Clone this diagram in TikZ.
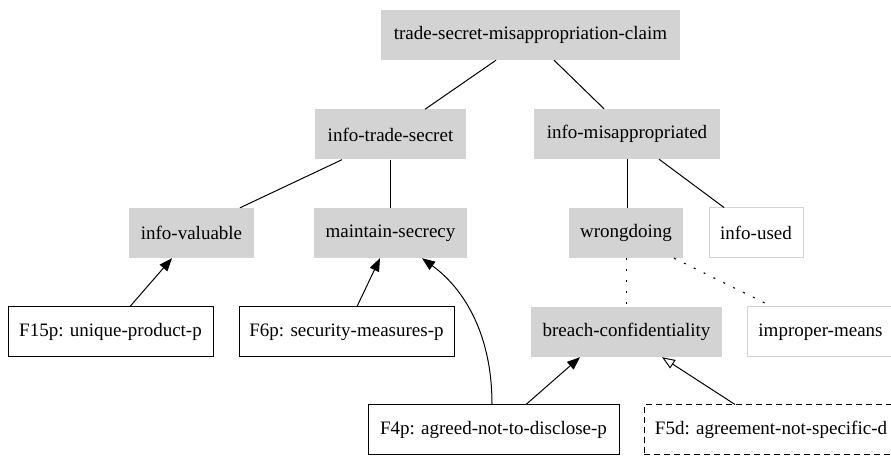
\documentclass[tikz,border=0pt]{standalone}
\usepackage{fontspec}
\setmainfont{Liberation Serif}
\newfontfamily\tnrfont{Liberation Serif}
\usetikzlibrary{arrows.meta}
\definecolor{gfill}{HTML}{D3D3D3}
\tikzset{
  base/.style={rectangle, inner sep=0pt, font=\tnrfont\fontsize{19}{22}\selectfont, minimum height=50pt, anchor=center},
  issue/.style={base, fill=gfill},
  leafissue/.style={base, draw=gfill, line width=1pt, fill=white},
  factor/.style={base, draw=black, line width=1pt, fill=white},
  dfactor/.style={base, draw=black, line width=1pt, fill=white, dash pattern=on 6pt off 4pt},
  conn/.style={line width=1pt},
  dots/.style={line width=1.1pt, dash pattern=on 2pt off 9pt},
  arr/.style={line width=1pt, -{Triangle[length=13pt,width=10pt]}},
  oarr/.style={line width=1pt, -{Triangle[open,length=13pt,width=10pt,fill=white]}}
}
\begin{document}
\begin{tikzpicture}[x=1pt,y=1pt]
\useasboundingbox (0,0) rectangle (891,457);
\clip (0,0) rectangle (891,457);
\fill[white] (0,0) rectangle (891,457);
% nodes (y = 457 - pixel y)
\node[issue, minimum width=299pt] (root) at (530.5,422) {trade-secret-misappropriation-claim};
\node[issue, minimum width=151pt] (its) at (390.5,322.5) {info-trade-secret};
\node[issue, minimum width=186pt] (im) at (627,323) {info-misappropriated};
\node[issue, minimum width=125pt] (iv) at (191.5,224) {info-valuable};
\node[issue, minimum width=153pt] (ms) at (390.5,224) {maintain-secrecy};
\node[issue, minimum width=114pt] (wd) at (626,224) {wrongdoing};
\node[leafissue, minimum width=94pt] (iu) at (756,224) {info-used};
\node[issue, minimum width=191pt] (bc) at (626.5,125) {breach-confidentiality};
\node[leafissue, minimum width=147pt] (ipm) at (820.5,125) {improper-means};
\node[factor, minimum width=205pt] (f15) at (110.5,125) {F15p: unique-product-p};
\node[factor, minimum width=215pt] (f6) at (346.5,125) {F6p: security-measures-p};
\node[factor, minimum width=251pt] (f4) at (493.5,27) {F4p: agreed-not-to-disclose-p};
\node[dfactor, minimum width=254pt] (f5) at (771,27) {F5d: agreement-not-specific-d};
% connectors
\draw[conn] ([xshift=-34.5pt]root.south) -- ([xshift=34.5pt]its.north);
\draw[conn] ([xshift=23.5pt]root.south) -- ([xshift=-23pt]im.north);
\draw[conn] ([xshift=-48.5pt]its.south) -- ([xshift=48.5pt]iv.north);
\draw[conn] (its.south) -- (ms.north);
\draw[conn] (im.south) -- (im.south |- wd.north);
\draw[conn] ([xshift=32pt]im.south) -- ([xshift=-32pt]iu.north);
\draw[dots] (wd.south -| bc.north) -- (bc.north);
\draw[dots] ([xshift=48pt]wd.south) -- ([xshift=-48.5pt]ipm.north);
\draw[arr] ([xshift=19.5pt]f15.north) -- ([xshift=-19.5pt]iv.south);
\draw[arr] ([xshift=10.5pt]f6.north) -- ([xshift=-10.5pt]ms.south);
\draw[arr] ([xshift=-1.5pt]f4.north) .. controls ([xshift=-1.5pt,yshift=75pt]f4.north) and ([xshift=70pt,yshift=-28pt]ms.south) .. ([xshift=31.5pt]ms.south);
\draw[arr] ([xshift=32.5pt]f4.north) -- ([xshift=-46.5pt]bc.south);
\draw[oarr] ([xshift=-36pt]f5.north) -- ([xshift=35.5pt]bc.south);
\end{tikzpicture}
\end{document}
